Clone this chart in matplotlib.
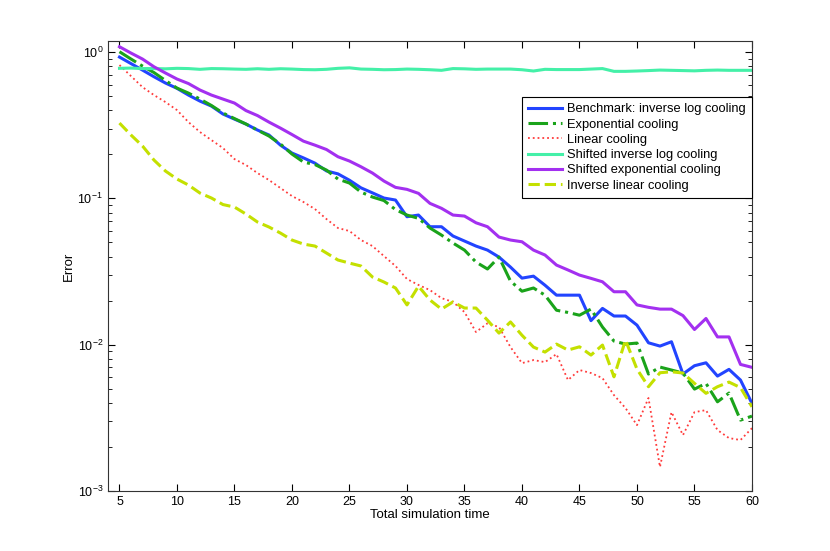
import numpy as np
import matplotlib
matplotlib.use('Agg')
import matplotlib.pyplot as plt

plt.rcParams['font.family'] = ['Liberation Sans', 'DejaVu Sans']

t = list(range(5, 61))

benchmark = [0.924, 0.834, 0.753, 0.678, 0.614, 0.565, 0.508, 0.462, 0.427, 0.377,
             0.348, 0.322, 0.293, 0.271, 0.231, 0.204, 0.189, 0.174, 0.154, 0.147,
             0.133, 0.118, 0.109, 0.1005, 0.0974, 0.0749, 0.0769, 0.064, 0.064, 0.0553,
             0.0511, 0.0472, 0.0443, 0.0397, 0.0339, 0.0285, 0.0294, 0.0255, 0.0218, 0.0218,
             0.0218, 0.0146, 0.0177, 0.0157, 0.0157, 0.0136, 0.0103, 0.00978, 0.01047, 0.0063,
             0.00718, 0.00752, 0.0061, 0.00678, 0.00573, 0.00397]

expo = [1.005, 0.896, 0.802, 0.724, 0.639, 0.567, 0.524, 0.477, 0.431, 0.383,
        0.351, 0.322, 0.293, 0.2666, 0.235, 0.2008, 0.177, 0.1702, 0.156, 0.1355,
        0.1272, 0.1104, 0.1021, 0.0966, 0.0838, 0.0769, 0.073, 0.0627, 0.0561, 0.0495,
        0.0443, 0.0367, 0.0329, 0.0397, 0.0272, 0.0232, 0.0244, 0.0218, 0.0172, 0.0166,
        0.0159, 0.0175, 0.0132, 0.01058, 0.01009, 0.01026, 0.0063, 0.00703, 0.00671, 0.0064,
        0.00497, 0.00544, 0.00407, 0.00467, 0.00305, 0.00325]

linear = [0.815, 0.685, 0.576, 0.508, 0.455, 0.401, 0.332, 0.284, 0.25, 0.2207,
          0.1856, 0.1689, 0.1489, 0.1334, 0.1176, 0.1037, 0.0944, 0.0845, 0.0722, 0.0627,
          0.0598, 0.0519, 0.0472, 0.0403, 0.0345, 0.0281, 0.0256, 0.0236, 0.0208, 0.0196,
          0.0167, 0.0122, 0.014, 0.0132, 0.00963, 0.00748, 0.00785, 0.0076, 0.00862, 0.00573,
          0.00671, 0.0064, 0.00591, 0.00452, 0.00369, 0.00282, 0.00432, 0.00146, 0.00346, 0.00241,
          0.00346, 0.00357, 0.00261, 0.0023, 0.00223, 0.00269]

shifted_log = [0.774, 0.777, 0.771, 0.771, 0.768, 0.774, 0.771, 0.762, 0.771, 0.769,
               0.765, 0.762, 0.769, 0.762, 0.769, 0.765, 0.759, 0.757, 0.762, 0.774,
               0.78, 0.765, 0.762, 0.757, 0.759, 0.765, 0.762, 0.757, 0.75, 0.771,
               0.768, 0.762, 0.765, 0.765, 0.765, 0.757, 0.742, 0.762, 0.759, 0.759,
               0.759, 0.765, 0.771, 0.738, 0.738, 0.742, 0.747, 0.753, 0.75, 0.747,
               0.744, 0.75, 0.753, 0.75, 0.75, 0.75]

shifted_exp = [1.087, 0.984, 0.896, 0.793, 0.719, 0.654, 0.609, 0.55, 0.508, 0.477,
               0.448, 0.398, 0.368, 0.332, 0.302, 0.273, 0.246, 0.231, 0.2157, 0.1925,
               0.1799, 0.1644, 0.1489, 0.1313, 0.1189, 0.1152, 0.1082, 0.0924, 0.0855, 0.0769,
               0.0757, 0.0681, 0.064, 0.0544, 0.0519, 0.0505, 0.0443, 0.041, 0.035, 0.0324,
               0.0299, 0.0284, 0.0269, 0.023, 0.023, 0.0187, 0.018, 0.0175, 0.0175, 0.0158,
               0.0127, 0.0151, 0.0113, 0.0113, 0.00733, 0.007]

inv_linear = [0.327, 0.271, 0.228, 0.1827, 0.1537, 0.1355, 0.1233, 0.1087, 0.1005, 0.0907,
              0.0872, 0.0781, 0.0689, 0.0637, 0.0579, 0.0519, 0.0487, 0.0472, 0.0423, 0.0379,
              0.0361, 0.0345, 0.029, 0.0268, 0.0244, 0.0187, 0.0251, 0.0202, 0.0175, 0.0196,
              0.0178, 0.0178, 0.0147, 0.012, 0.0143, 0.0116, 0.00963, 0.0089, 0.01009, 0.00919,
              0.00967, 0.00849, 0.00994, 0.00603, 0.01075, 0.00681, 0.00516, 0.00643, 0.00653, 0.0064,
              0.00544, 0.00465, 0.00516, 0.00555, 0.00509, 0.00376]

labels = ['Benchmark: inverse log cooling', 'Exponential cooling', 'Linear cooling',
          'Shifted inverse log cooling', 'Shifted exponential cooling', 'Inverse linear cooling']

fig = plt.figure(figsize=(8.3, 5.51), dpi=100)
ax = fig.add_axes([0.1301, 0.1089, 0.7759, 0.8167])

ax.plot(t, benchmark, color='#2244ff', lw=2.2, label=labels[0])
ax.plot(t, expo, color='#1aa31a', lw=2.2, ls='-.', label=labels[1])
ax.plot(t, linear, color='#ff3b3b', lw=1.3, ls=':', label=labels[2])
ax.plot(t, shifted_log, color='#44f0a8', lw=2.2, label=labels[3])
ax.plot(t, shifted_exp, color='#a330f0', lw=2.2, label=labels[4])
ax.plot(t, inv_linear, color='#c4e000', lw=2.2, ls='--', label=labels[5])

ax.set_yscale('log')
ax.set_xlim(4, 60)
ax.set_ylim(1e-3, 1.19)
ax.set_xticks(range(5, 61, 5))
ax.tick_params(which='both', direction='in', top=True, right=True, labelsize=9)
ax.tick_params(which='major', length=5)
ax.tick_params(which='minor', length=3)
ax.set_xlabel('Total simulation time', fontsize=9.5, labelpad=1)
ax.set_ylabel('Error', fontsize=9.5, labelpad=2)
for s in ax.spines.values():
    s.set_color('#333333')

leg = ax.legend(loc='upper right', bbox_to_anchor=(1.0, 0.876), borderaxespad=0,
                fontsize=9.3, handlelength=2.6, fancybox=False, framealpha=1,
                labelspacing=0.25, borderpad=0.5, handletextpad=0.4)
leg.get_frame().set_edgecolor('black')
leg.get_frame().set_linewidth(0.8)

fig.savefig('out.png', dpi=100)
